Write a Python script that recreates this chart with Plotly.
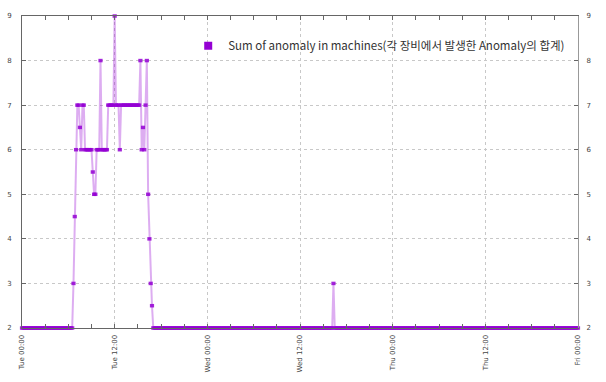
import pandas as pd
import plotly.graph_objects as go

START = "2019-01-01 00:00"          # a Tuesday
END = "2019-01-04 00:00"            # Friday 00:00
SAMPLE_MINUTES = 10
run_values = [2, 3, 4.5, 6, 7, 6.5, 6, 7, 6, 5.5, 5, 6, 8, 6, 7, 9, 7, 6, 7,
              8, 6, 6.5, 6, 7, 8, 5, 4, 3, 2.5, 2, 3, 2]
run_lengths = [40, 1, 1, 1, 2, 1, 1, 2, 6, 1, 2, 3, 1, 5, 5, 1, 3, 1, 15,
               1, 1, 1, 1, 1, 1, 1, 1, 1, 1, 140, 1, 190]
y_ticks = [2, 3, 4, 5, 6, 7, 8, 9]
series_name = "Sum of anomaly in machines(각 장비에서 발생한 Anomaly의 합계)"

values = []
for v, n in zip(run_values, run_lengths):
    values.extend([v] * n)
times = pd.date_range(START, periods=len(values), freq=f"{SAMPLE_MINUTES}min")

VIOLET = "#9400D3"
fig = go.Figure()
fig.add_trace(go.Scatter(
    x=times, y=values, mode="lines+markers", showlegend=False,
    line=dict(color="rgba(148,0,211,0.32)", width=2),
    marker=dict(symbol="line-ew-open", size=3, color="rgba(148,0,211,0.85)",
                line=dict(color="rgba(148,0,211,0.85)", width=3.5)),
    cliponaxis=False,
))
fig.add_trace(go.Scatter(
    x=[None], y=[None], mode="markers", name=series_name,
    marker=dict(symbol="square", size=8, color=VIOLET),
))
fig.add_trace(go.Scatter(x=[times[0]], y=[None], yaxis="y2", showlegend=False,
                         hoverinfo="skip"))

tick_font = dict(family="DejaVu Sans", size=7, color="#444")
fig.update_layout(
    width=606, height=382,
    margin=dict(l=22, r=28, t=16, b=54),
    paper_bgcolor="white", plot_bgcolor="white",
    font=dict(family="Noto Sans CJK KR", color="#333"),
    legend=dict(x=0.986, y=0.905, xanchor="right", yanchor="middle",
                bgcolor="rgba(0,0,0,0)", font=dict(size=11.5,
                family="Noto Sans CJK KR", color="#333"),
                itemwidth=30),
    xaxis=dict(type="date", range=[START, END], dtick=12 * 3600 * 1000,
               tick0=START, tickformat="%a %H:%M", tickangle=-90,
               tickfont=tick_font, ticks="inside", ticklen=4,
               tickcolor="#666", showgrid=True, gridcolor="#c8c8c8",
               griddash="dot", gridwidth=1, showline=True, linecolor="#666",
               linewidth=1, mirror="allticks", zeroline=False,
               automargin=False, ticklabelstandoff=3,
               minor=dict(dtick=3 * 3600 * 1000, ticks="inside", ticklen=3,
                          tickcolor="#666", showgrid=False)),
    yaxis=dict(range=[2, 9], tickvals=y_ticks, tickfont=tick_font,
               ticks="inside", ticklen=4, tickcolor="#666", showgrid=True,
               gridcolor="#c8c8c8", griddash="dot", gridwidth=1, showline=True,
               linecolor="#666", linewidth=1, mirror=True, zeroline=False,
               automargin=False, ticklabelstandoff=8),
    yaxis2=dict(range=[2, 9], tickvals=y_ticks, tickfont=tick_font,
                overlaying="y", side="right", ticks="inside", ticklen=4,
                tickcolor="#666", showgrid=False, showline=True,
                linecolor="#999", linewidth=1, zeroline=False,
                automargin=False, ticklabelstandoff=6),
)
fig.write_html("out.html", config={"displayModeBar": False},
               post_script="document.body.style.margin='0';")
